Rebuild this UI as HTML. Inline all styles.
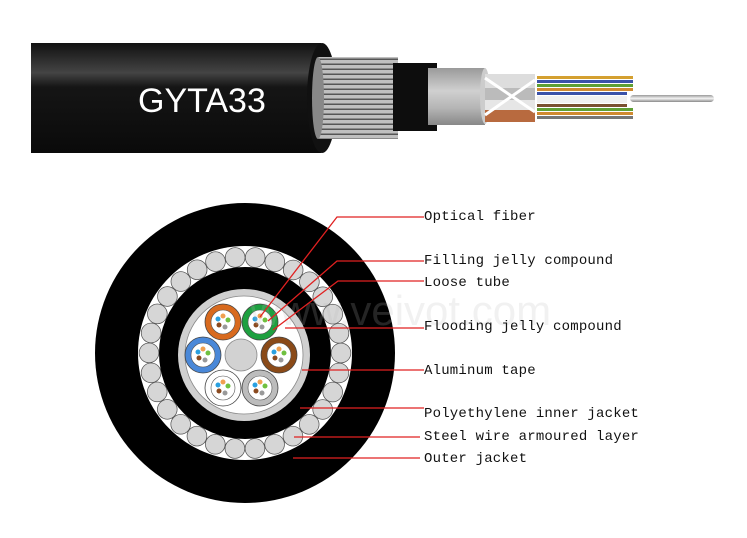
<!DOCTYPE html>
<html><head><meta charset="utf-8"><style>
html,body{margin:0;padding:0;background:#fff;}
svg{display:block;}
.t{font-family:"Liberation Mono",monospace;font-size:14px;fill:#111;letter-spacing:0.2px;}
</style></head><body>
<svg width="747" height="538" viewBox="0 0 747 538" xmlns="http://www.w3.org/2000/svg">
<defs>
<linearGradient id="jk" x1="0" y1="0" x2="0" y2="1">
<stop offset="0" stop-color="#111"/><stop offset="0.27" stop-color="#444"/><stop offset="0.4" stop-color="#151515"/><stop offset="1" stop-color="#0a0a0a"/>
</linearGradient>
<linearGradient id="al" x1="0" y1="0" x2="0" y2="1">
<stop offset="0" stop-color="#9a9a9a"/><stop offset="0.4" stop-color="#d0d0d0"/><stop offset="0.7" stop-color="#b5b5b5"/><stop offset="1" stop-color="#888"/>
</linearGradient>
<pattern id="wire" width="10" height="5" patternUnits="userSpaceOnUse">
<rect width="10" height="5" fill="#bfbfbf"/><rect y="3.5" width="10" height="1.5" fill="#555"/>
</pattern>
<linearGradient id="rod" x1="0" y1="0" x2="0" y2="1">
<stop offset="0" stop-color="#999"/><stop offset="0.5" stop-color="#f4f4f4"/><stop offset="1" stop-color="#888"/>
</linearGradient>
</defs>

<rect x="31" y="43" width="290" height="110" fill="url(#jk)"/>
<ellipse cx="322" cy="98" rx="15" ry="55" fill="#111"/>
<rect x="318" y="57" width="80" height="82" fill="url(#wire)"/>
<ellipse cx="318" cy="98" rx="6" ry="41" fill="#888"/>
<rect x="393" y="63" width="44" height="68" fill="#0d0d0d"/>
<rect x="428" y="68" width="57" height="57" fill="url(#al)"/>
<ellipse cx="485" cy="96" rx="5" ry="28" fill="#ccc"/>
<rect x="485" y="74" width="50" height="14" fill="#ddd"/>
<rect x="485" y="88" width="50" height="12" fill="#bbb"/>
<rect x="485" y="100" width="50" height="10" fill="#e6e6e6"/>
<rect x="485" y="110" width="50" height="12" fill="#b86a3f"/>
<path d="M485 78 L535 112 M485 115 L535 80" stroke="#fff" stroke-width="3"/>
<rect x="537" y="76" width="96" height="3" fill="#d4a030"/>
<rect x="537" y="80" width="96" height="3" fill="#3b52a8"/>
<rect x="537" y="84" width="96" height="3" fill="#5fa034"/>
<rect x="537" y="88" width="96" height="3" fill="#d08a30"/>
<rect x="537" y="92" width="90" height="3" fill="#3b52a8"/>
<rect x="537" y="96" width="90" height="7" fill="#f0f0f0"/>
<rect x="537" y="104" width="90" height="3" fill="#7a5030"/>
<rect x="537" y="108" width="96" height="3" fill="#5fa034"/>
<rect x="537" y="112" width="96" height="3" fill="#d08a30"/>
<rect x="537" y="116" width="96" height="3" fill="#777"/>
<rect x="630" y="95" width="84" height="7" rx="3.5" fill="url(#rod)"/>
<text x="138" y="112" font-family="Liberation Sans,sans-serif" font-size="34" fill="#fff">GYTA33</text>

<circle cx="245" cy="353" r="150" fill="#000"/>
<circle cx="245" cy="353" r="107" fill="#fff"/>
<circle cx="245" cy="353" r="96" fill="none" stroke="#555" stroke-width="20.5" stroke-linecap="round" stroke-dasharray="0 20.106"/>
<circle cx="245" cy="353" r="96" fill="none" stroke="#d6d6d6" stroke-width="19" stroke-linecap="round" stroke-dasharray="0 20.106"/>
<circle cx="245" cy="353" r="86" fill="#000"/>
<circle cx="244" cy="355" r="66" fill="#d0d0d0"/>
<circle cx="244" cy="355" r="59" fill="#fff" stroke="#888" stroke-width="0.8"/>
<circle cx="241" cy="355" r="16" fill="#d2d2d2" stroke="#888" stroke-width="0.8"/>
<g stroke="#444" stroke-width="0.8">
<circle cx="223" cy="322" r="18" fill="#d86a1e"/>
<circle cx="260" cy="322" r="18" fill="#1ea040"/>
<circle cx="203" cy="355" r="18" fill="#4a88d8"/>
<circle cx="279" cy="355" r="18" fill="#8a4a18"/>
<circle cx="223" cy="388" r="18" fill="#fff"/>
<circle cx="260" cy="388" r="18" fill="#bcbcbc"/>
</g>
<g fill="#fff" stroke="#555" stroke-width="0.6">
<circle cx="223" cy="322" r="12"/><circle cx="260" cy="322" r="12"/><circle cx="203" cy="355" r="12"/>
<circle cx="279" cy="355" r="12"/><circle cx="223" cy="388" r="12"/><circle cx="260" cy="388" r="12"/>
</g>
<g>
<g transform="translate(223,322)"><circle cx="-5" cy="-3" r="2.5" fill="#2aa0e0"/><circle cx="0" cy="-6" r="2.5" fill="#f0a050"/><circle cx="5" cy="-2" r="2.5" fill="#70c040"/><circle cx="-4" cy="3" r="2.5" fill="#8a4a20"/><circle cx="2" cy="5" r="2.5" fill="#999"/></g>
<g transform="translate(260,322)"><circle cx="-5" cy="-3" r="2.5" fill="#2aa0e0"/><circle cx="0" cy="-6" r="2.5" fill="#f0a050"/><circle cx="5" cy="-2" r="2.5" fill="#70c040"/><circle cx="-4" cy="3" r="2.5" fill="#8a4a20"/><circle cx="2" cy="5" r="2.5" fill="#999"/></g>
<g transform="translate(203,355)"><circle cx="-5" cy="-3" r="2.5" fill="#2aa0e0"/><circle cx="0" cy="-6" r="2.5" fill="#f0a050"/><circle cx="5" cy="-2" r="2.5" fill="#70c040"/><circle cx="-4" cy="3" r="2.5" fill="#8a4a20"/><circle cx="2" cy="5" r="2.5" fill="#999"/></g>
<g transform="translate(279,355)"><circle cx="-5" cy="-3" r="2.5" fill="#2aa0e0"/><circle cx="0" cy="-6" r="2.5" fill="#f0a050"/><circle cx="5" cy="-2" r="2.5" fill="#70c040"/><circle cx="-4" cy="3" r="2.5" fill="#8a4a20"/><circle cx="2" cy="5" r="2.5" fill="#999"/></g>
<g transform="translate(223,388)"><circle cx="-5" cy="-3" r="2.5" fill="#2aa0e0"/><circle cx="0" cy="-6" r="2.5" fill="#f0a050"/><circle cx="5" cy="-2" r="2.5" fill="#70c040"/><circle cx="-4" cy="3" r="2.5" fill="#8a4a20"/><circle cx="2" cy="5" r="2.5" fill="#999"/></g>
<g transform="translate(260,388)"><circle cx="-5" cy="-3" r="2.5" fill="#2aa0e0"/><circle cx="0" cy="-6" r="2.5" fill="#f0a050"/><circle cx="5" cy="-2" r="2.5" fill="#70c040"/><circle cx="-4" cy="3" r="2.5" fill="#8a4a20"/><circle cx="2" cy="5" r="2.5" fill="#999"/></g>
</g>

<text x="250" y="325" font-family="Liberation Sans,sans-serif" font-size="42" fill="#bbb" fill-opacity="0.2">www.veivot.com</text>

<g stroke="#e02020" stroke-width="1.3" fill="none">
<polyline points="260,317 337,217 424,217"/>
<polyline points="268,321 337,261 424,261"/>
<polyline points="273,330 338,281 424,281"/>
<line x1="285" y1="328" x2="424" y2="328"/>
<line x1="302" y1="370" x2="424" y2="370"/>
<line x1="300" y1="408" x2="424" y2="408"/>
<line x1="294" y1="437" x2="420" y2="437"/>
<line x1="293" y1="458" x2="420" y2="458"/>
</g>
<g class="t">
<text x="424" y="220">Optical fiber</text>
<text x="424" y="264">Filling jelly compound</text>
<text x="424" y="286">Loose tube</text>
<text x="424" y="330">Flooding jelly compound</text>
<text x="424" y="374">Aluminum tape</text>
<text x="424" y="417">Polyethylene inner jacket</text>
<text x="424" y="440">Steel wire armoured layer</text>
<text x="424" y="462">Outer jacket</text>
</g>
</svg>
</body></html>
